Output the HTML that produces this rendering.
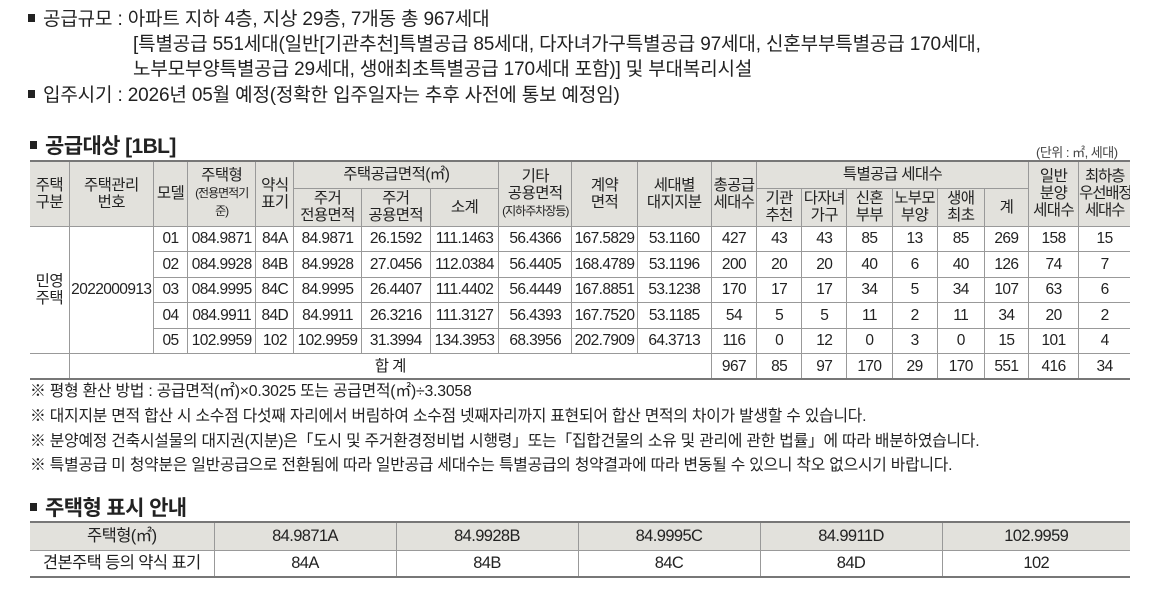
<!DOCTYPE html>
<html><head><meta charset="utf-8"><style>
*{margin:0;padding:0;box-sizing:border-box}
body{width:1160px;height:593px;background:#fff;position:relative;overflow:hidden;font-family:"Liberation Sans","Noto Sans CJK KR",sans-serif;color:#222}
.t{position:absolute;white-space:nowrap;font-size:19px;letter-spacing:-0.15px;line-height:20px}
.n{font-size:15.8px;letter-spacing:-0.2px}
.h{position:absolute;white-space:nowrap;font-size:21px;font-weight:bold;letter-spacing:-0.6px}
.b{display:inline-block;width:7px;height:8px;background:#222;margin-right:8px;vertical-align:3px}
table{position:absolute;border-collapse:collapse;table-layout:fixed;font-size:15.5px;letter-spacing:-0.6px}
td{border:1px solid #999;text-align:center;vertical-align:middle;padding:0;line-height:17px;white-space:nowrap;overflow:hidden}
tr.hd td{background:#e2e1dc}
table{border-top:2px solid #777;border-bottom:2px solid #777}
table td:first-child{border-left:none}
table td:last-child{border-right:none}
.s{font-size:12px;letter-spacing:-1px}
</style></head><body>
<div class="t" style="left:28px;top:10px"><span class="b"></span>공급규모 : 아파트 지하 4층, 지상 29층, 7개동 총 967세대</div>
<div class="t" style="left:133px;top:35px">[특별공급 551세대(일반[기관추천]특별공급 85세대, 다자녀가구특별공급 97세대, 신혼부부특별공급 170세대,</div>
<div class="t" style="left:133px;top:60px">노부모부양특별공급 29세대, 생애최초특별공급 170세대 포함)] 및 부대복리시설</div>
<div class="t" style="left:28px;top:86px"><span class="b"></span>입주시기 : 2026년 05월 예정(정확한 입주일자는 추후 사전에 통보 예정임)</div>
<div class="h" style="left:30px;top:130px"><span class="b" style="vertical-align:4px"></span>공급대상 [1BL]</div>
<div class="t" style="left:1036px;top:143px;font-size:13px;letter-spacing:-0.5px;color:#444">(단위 : ㎡, 세대)</div>
<table style="left:30px;top:160px;width:1100px">
<colgroup><col width="39"><col width="84"><col width="34"><col width="68"><col width="38"><col width="67"><col width="69"><col width="68"><col width="73"><col width="65"><col width="74"><col width="45"><col width="45"><col width="45"><col width="45"><col width="45"><col width="47"><col width="44"><col width="50"><col width="51"></colgroup>
<tr class="hd" style="height:27px"><td rowspan="2">주택<br>구분</td><td rowspan="2">주택관리<br>번호</td><td rowspan="2">모델</td><td rowspan="2">주택형<br><span class="s">(전용면적기<br>준)</span></td><td rowspan="2">약식<br>표기</td><td colspan="3">주택공급면적(㎡)</td><td rowspan="2">기타<br>공용면적<br><span class="s">(지하주차장등)</span></td><td rowspan="2">계약<br>면적</td><td rowspan="2">세대별<br>대지지분</td><td rowspan="2">총공급<br>세대수</td><td colspan="6">특별공급 세대수</td><td rowspan="2">일반<br>분양<br>세대수</td><td rowspan="2" style="letter-spacing:-1.2px">최하층<br>우선배정<br>세대수</td></tr>
<tr class="hd" style="height:38px"><td>주거<br>전용면적</td><td>주거<br>공용면적</td><td>소계</td><td>기관<br>추천</td><td>다자녀<br>가구</td><td>신혼<br>부부</td><td>노부모<br>부양</td><td>생애<br>최초</td><td>계</td></tr>
<tr style="height:25.5px"><td rowspan="5">민영<br>주택</td><td rowspan="5">2022000913</td><td>01</td><td>084.9871</td><td>84A</td><td>84.9871</td><td>26.1592</td><td>111.1463</td><td>56.4366</td><td>167.5829</td><td>53.1160</td><td>427</td><td>43</td><td>43</td><td>85</td><td>13</td><td>85</td><td>269</td><td>158</td><td>15</td></tr>
<tr style="height:25.5px"><td>02</td><td>084.9928</td><td>84B</td><td>84.9928</td><td>27.0456</td><td>112.0384</td><td>56.4405</td><td>168.4789</td><td>53.1196</td><td>200</td><td>20</td><td>20</td><td>40</td><td>6</td><td>40</td><td>126</td><td>74</td><td>7</td></tr>
<tr style="height:25.5px"><td>03</td><td>084.9995</td><td>84C</td><td>84.9995</td><td>26.4407</td><td>111.4402</td><td>56.4449</td><td>167.8851</td><td>53.1238</td><td>170</td><td>17</td><td>17</td><td>34</td><td>5</td><td>34</td><td>107</td><td>63</td><td>6</td></tr>
<tr style="height:25.5px"><td>04</td><td>084.9911</td><td>84D</td><td>84.9911</td><td>26.3216</td><td>111.3127</td><td>56.4393</td><td>167.7520</td><td>53.1185</td><td>54</td><td>5</td><td>5</td><td>11</td><td>2</td><td>11</td><td>34</td><td>20</td><td>2</td></tr>
<tr style="height:25.5px"><td>05</td><td>102.9959</td><td>102</td><td>102.9959</td><td>31.3994</td><td>134.3953</td><td>68.3956</td><td>202.7909</td><td>64.3713</td><td>116</td><td>0</td><td>12</td><td>0</td><td>3</td><td>0</td><td>15</td><td>101</td><td>4</td></tr>
<tr style="height:25.5px"><td style="border-top:none"></td><td colspan="10">합 계</td><td>967</td><td>85</td><td>97</td><td>170</td><td>29</td><td>170</td><td>551</td><td>416</td><td>34</td></tr>
</table>
<div class="t n" style="left:30px;top:382px">※ 평형 환산 방법 : 공급면적(㎡)×0.3025 또는 공급면적(㎡)÷3.3058</div>
<div class="t n" style="left:30px;top:407px">※ 대지지분 면적 합산 시 소수점 다섯째 자리에서 버림하여 소수점 넷째자리까지 표현되어 합산 면적의 차이가 발생할 수 있습니다.</div>
<div class="t n" style="left:30px;top:432px">※ 분양예정 건축시설물의 대지권(지분)은「도시 및 주거환경정비법 시행령」또는「집합건물의 소유 및 관리에 관한 법률」에 따라 배분하였습니다.</div>
<div class="t n" style="left:30px;top:456px">※ 특별공급 미 청약분은 일반공급으로 전환됨에 따라 일반공급 세대수는 특별공급의 청약결과에 따라 변동될 수 있으니 착오 없으시기 바랍니다.</div>
<div class="h" style="left:30px;top:492px"><span class="b" style="vertical-align:4px"></span>주택형 표시 안내</div>
<table style="left:30px;top:521px;width:1100px;font-size:16.5px">
<colgroup><col width="184"><col width="182"><col width="182"><col width="182"><col width="182"><col width="188"></colgroup>
<tr class="hd" style="height:28px"><td>주택형(㎡)</td><td>84.9871A</td><td>84.9928B</td><td>84.9995C</td><td>84.9911D</td><td>102.9959</td></tr>
<tr style="height:27px"><td>견본주택 등의 약식 표기</td><td>84A</td><td>84B</td><td>84C</td><td>84D</td><td>102</td></tr>
</table>
</body></html>
